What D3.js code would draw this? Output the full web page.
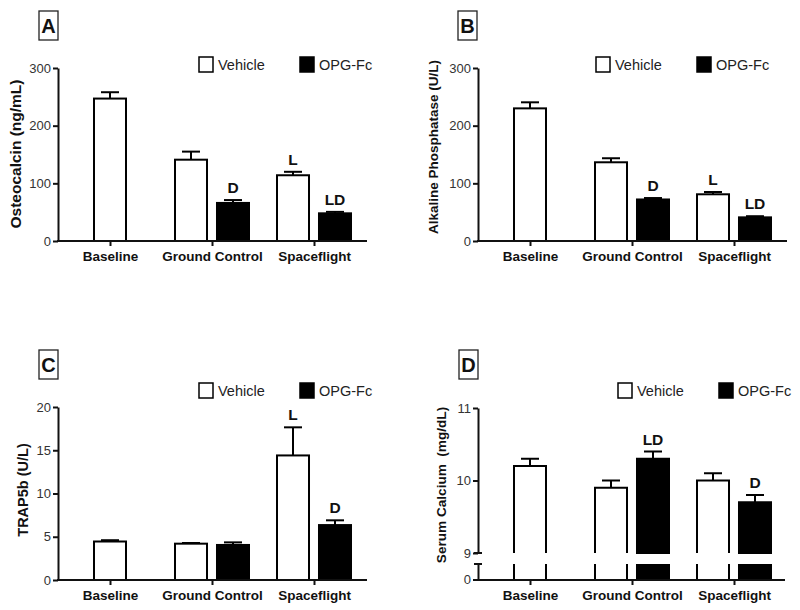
<!DOCTYPE html>
<html><head><meta charset="utf-8">
<script src="https://cdn.jsdelivr.net/npm/d3@7"></script>
<style>
body{margin:0;background:#fff}
text{font-family:"Liberation Sans",Arial,Helvetica,sans-serif}
</style></head><body>
<svg id="chart" width="800" height="610"></svg>
<script>
// ---------- data ----------
const categories = ["Baseline", "Ground Control", "Spaceflight"];
const seriesNames = ["Vehicle", "OPG-Fc"];

const osteoVehicle = [247, 141, 114];
const osteoVehicleErr = [11, 14, 6];
const osteoOPG = [null, 66, 48];
const osteoOPGErr = [null, 5, 2.5];
const osteoVehicleSig = ["", "", "L"];
const osteoOPGSig = ["", "D", "LD"];
const osteoTicks = [0, 100, 200, 300];

const alpVehicle = [230, 136.5, 81];
const alpVehicleErr = [10.5, 7, 4];
const alpOPG = [null, 72, 41];
const alpOPGErr = [null, 2.5, 2];
const alpVehicleSig = ["", "", "L"];
const alpOPGSig = ["", "D", "LD"];
const alpTicks = [0, 100, 200, 300];

const trapVehicle = [4.45, 4.2, 14.4];
const trapVehicleErr = [0.15, 0.08, 3.25];
const trapOPG = [null, 4.05, 6.35];
const trapOPGErr = [null, 0.3, 0.55];
const trapVehicleSig = ["", "", "L"];
const trapOPGSig = ["", "", "D"];
const trapTicks = [0, 5, 10, 15, 20];

const caVehicle = [10.2, 9.9, 10.0];
const caVehicleErr = [0.1, 0.1, 0.1];
const caOPG = [null, 10.3, 9.7];
const caOPGErr = [null, 0.1, 0.1];
const caVehicleSig = ["", "", ""];
const caOPGSig = ["", "LD", "D"];
const caTicksUpper = [9, 10, 11];
const caTicksLower = [0];

const panelLetters = ["A", "B", "C", "D"];
const yLabels = ["Osteocalcin (ng/mL)", "Alkaline Phosphatase (U/L)", "TRAP5b (U/L)", "Serum Calcium  (mg/dL)"];

// ---------- layout ----------
const svg = d3.select("#chart");
const panels = [
  {letter: panelLetters[0], ylab: yLabels[0], veh: osteoVehicle, vehE: osteoVehicleErr, opg: osteoOPG, opgE: osteoOPGErr, vehS: osteoVehicleSig, opgS: osteoOPGSig, ticks: osteoTicks,
   ox: 0, oy: 0, xEnd: 367, legX: 199, legY: 57, box: [39, 11], ylabPos: [15, 154], ylabSize: 15.5},
  {letter: panelLetters[1], ylab: yLabels[1], veh: alpVehicle, vehE: alpVehicleErr, opg: alpOPG, opgE: alpOPGErr, vehS: alpVehicleSig, opgS: alpOPGSig, ticks: alpTicks,
   ox: 420, oy: 0, xEnd: 787, legX: 596, legY: 57, box: [458, 11], ylabPos: [433.5, 147], ylabSize: 13.5},
  {letter: panelLetters[2], ylab: yLabels[2], veh: trapVehicle, vehE: trapVehicleErr, opg: trapOPG, opgE: trapOPGErr, vehS: trapVehicleSig, opgS: trapOPGSig, ticks: trapTicks,
   ox: 0, oy: 339, xEnd: 367, legX: 199, legY: 383, box: [39, 350], ylabPos: [22.5, 490], ylabSize: 14.5},
  {letter: panelLetters[3], ylab: yLabels[3], veh: caVehicle, vehE: caVehicleErr, opg: caOPG, opgE: caOPGErr, vehS: caVehicleSig, opgS: caOPGSig, ticksUpper: caTicksUpper, ticksLower: caTicksLower,
   ox: 420, oy: 339, xEnd: 785, legX: 618, legY: 383, box: [459, 350], ylabPos: [441.5, 485], ylabSize: 13.6, broken: true}
];

const xSer = d3.scaleBand().domain(seriesNames).range([-37.5, 37.5]).paddingInner(0.214);
const bw = xSer.bandwidth();
const capW = 18;

function drawPanel(p) {
  const g = svg.append("g");
  const axisX = p.ox + 58;
  const y0 = p.oy + 241, yTop = p.oy + 68;
  const xCat = d3.scalePoint().domain(categories).range([p.ox + 110, p.ox + 314]);

  let yv, upper, lower;
  if (!p.broken) {
    yv = d3.scaleLinear().domain([0, d3.max(p.ticks)]).range([y0, yTop]);
  } else {
    upper = d3.scaleLinear().domain([9, 11]).range([p.oy + 214, p.oy + 69]);
    lower = d3.scaleLinear().domain([0, 9]).range([y0 - 0.5, p.oy + 225]);
    yv = upper;
  }

  // bars
  const bars = [];
  categories.forEach((c, i) => {
    const pair = p.opg[i] != null;
    [[seriesNames[0], p.veh[i], p.vehE[i], p.vehS[i]], [seriesNames[1], p.opg[i], p.opgE[i], p.opgS[i]]].forEach(([s, v, e, sig]) => {
      if (v == null) return;
      const cx = pair ? xCat(c) + xSer(s) + bw / 2 : xCat(c);
      bars.push({s, v, e, sig, cx});
    });
  });

  bars.forEach(b => {
    const fill = b.s === seriesNames[0] ? "#fff" : "#000";
    const l = b.cx - (bw - 1) / 2, r = b.cx + (bw - 1) / 2;
    if (!p.broken) {
      g.append("rect").attr("x", l).attr("y", yv(b.v)).attr("width", r - l).attr("height", yv(0) - yv(b.v))
        .attr("fill", fill).attr("stroke", "#000").attr("stroke-width", 2);
    } else {
      g.append("path").attr("d", `M${l},${upper(9)}V${upper(b.v)}H${r}V${upper(9)}` + (fill === "#000" ? "Z" : ""))
        .attr("fill", fill).attr("stroke", "#000").attr("stroke-width", 2);
      if (fill === "#000") {
        g.append("rect").attr("x", l - 1).attr("y", lower(9)).attr("width", r - l + 2).attr("height", lower(0) - lower(9)).attr("fill", "#000");
      } else {
        g.append("path").attr("d", `M${l},${lower(9)}V${lower(0)}M${r},${lower(9)}V${lower(0)}`)
          .attr("fill", "none").attr("stroke", "#000").attr("stroke-width", 2);
      }
    }
    g.append("line").attr("x1", b.cx).attr("x2", b.cx).attr("y1", yv(b.v)).attr("y2", yv(b.v + b.e))
      .attr("stroke", "#000").attr("stroke-width", 2);
    g.append("line").attr("x1", b.cx - capW / 2).attr("x2", b.cx + capW / 2).attr("y1", yv(b.v + b.e)).attr("y2", yv(b.v + b.e))
      .attr("stroke", "#000").attr("stroke-width", 2);
    if (b.sig) {
      g.append("text").attr("x", b.cx).attr("y", yv(b.v + b.e) - 7).attr("text-anchor", "middle")
        .attr("font-size", 15.5).attr("font-weight", "bold").attr("fill", "#111").text(b.sig);
    }
  });

  const styleAxis = sel => {
    sel.selectAll("path").attr("stroke", "#111").attr("stroke-width", 2);
    sel.selectAll("line").attr("stroke", "#111").attr("stroke-width", 2);
    sel.selectAll("text").attr("font-size", 13).attr("fill", "#333").attr("font-family", '"Liberation Sans",Arial,sans-serif');
  };
  if (!p.broken) {
    g.append("g").attr("transform", `translate(${axisX},0)`)
      .call(d3.axisLeft(yv).tickValues(p.ticks).tickFormat(d3.format("d")).tickSize(5).tickSizeOuter(0).tickPadding(2))
      .call(styleAxis);
  } else {
    g.append("g").attr("transform", `translate(${axisX},0)`)
      .call(d3.axisLeft(upper).tickValues(p.ticksUpper).tickFormat(d3.format("d")).tickSize(5).tickSizeOuter(0).tickPadding(2))
      .call(styleAxis);
    g.append("g").attr("transform", `translate(${axisX},0)`)
      .call(d3.axisLeft(lower).tickValues(p.ticksLower).tickFormat(d3.format("d")).tickSize(5).tickSizeOuter(0).tickPadding(2))
      .call(styleAxis);
    [upper(9), lower(9)].forEach(yy => {
      g.append("line").attr("x1", axisX - 4).attr("x2", axisX + 4).attr("y1", yy).attr("y2", yy)
        .attr("stroke", "#111").attr("stroke-width", 2);
    });
  }

  g.append("line").attr("x1", axisX - 1).attr("x2", p.xEnd).attr("y1", y0).attr("y2", y0)
    .attr("stroke", "#111").attr("stroke-width", 2);
  const xa = g.append("g").attr("transform", `translate(0,${y0})`)
    .call(d3.axisBottom(xCat).tickSize(5).tickSizeOuter(0).tickPadding(5));
  xa.select(".domain").remove();
  xa.selectAll("line").attr("stroke", "#111").attr("stroke-width", 2);
  xa.selectAll("text").attr("font-size", 13.5).attr("font-weight", "bold").attr("fill", "#111")
    .attr("font-family", '"Liberation Sans",Arial,sans-serif');

  g.append("text").attr("transform", `translate(${p.ylabPos[0]},${p.ylabPos[1]}) rotate(-90)`)
    .attr("text-anchor", "middle").attr("dominant-baseline", "central")
    .attr("font-size", p.ylabSize).attr("font-weight", "bold").attr("fill", "#111")
    .style("white-space", "pre").text(p.ylab);

  seriesNames.forEach((s, i) => {
    const lx = p.legX + i * 101;
    g.append("rect").attr("x", lx).attr("y", p.legY).attr("width", 14).attr("height", 15)
      .attr("fill", i === 0 ? "#fff" : "#000").attr("stroke", "#000").attr("stroke-width", 1.5);
    g.append("text").attr("x", lx + 19).attr("y", p.legY + 13).attr("font-size", 14.5).attr("fill", "#222").text(s);
  });

  g.append("rect").attr("x", p.box[0]).attr("y", p.box[1]).attr("width", 19).attr("height", 29)
    .attr("fill", "#fff").attr("stroke", "#222").attr("stroke-width", 1.3);
  g.append("text").attr("x", p.box[0] + 9.5).attr("y", p.box[1] + 22).attr("text-anchor", "middle")
    .attr("font-size", 20).attr("font-weight", "bold").attr("fill", "#111").text(p.letter);
}

panels.forEach(drawPanel);
</script>
</body></html>
